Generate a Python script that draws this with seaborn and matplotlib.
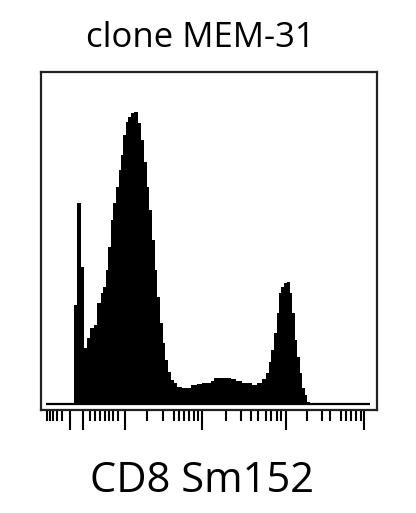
import numpy as np
import pandas as pd
import matplotlib
matplotlib.use('Agg')
import matplotlib.pyplot as plt
import seaborn as sns

# данные гистограммы (каналы и число событий)
bin_edges = [33.3, 36.7, 40.7, 43.3, 46.0, 49.3, 53.3, 56.7, 60.0, 62.7,
             65.0, 67.7, 70.0, 72.7, 75.3, 78.0, 80.0, 82.7, 85.0, 87.3,
             90.0, 93.3, 97.3, 100.0, 103.3, 106.0, 108.7, 111.3, 114.0, 116.7,
             119.3, 122.0, 124.7, 127.3, 130.0, 133.3, 136.7, 141.7, 150.0, 156.7,
             161.7, 170.0, 173.3, 190.0, 195.0, 201.7, 211.7, 216.7, 221.7, 225.0,
             228.3, 230.7, 233.3, 236.0, 238.3, 240.7, 243.3, 246.0, 249.3, 251.7,
             254.0, 256.7, 259.3, 261.7, 264.0, 266.7, 269.3]
counts = [99, 201, 137, 56, 66, 76, 79, 101, 111, 117,
          134, 157, 184, 201, 217, 234, 249, 269, 282, 287,
          291, 292, 281, 264, 242, 217, 194, 164, 134, 107,
          81, 61, 44, 32, 24, 21, 17, 16, 19, 20,
          21, 23, 26, 25, 23, 21, 19, 21, 25, 31,
          42, 54, 71, 91, 111, 117, 121, 122, 111, 91,
          64, 47, 31, 16, 9, 2]

# деления шкалы (логикл-шкала прибора)
major_ticks = [29.3, 42.3, 84.0, 161.7, 245.0, 323.3]
minor_ticks = [6.0, 9.3, 12.7, 16.7, 21.7, 49.3, 54.3, 59.3, 64.0, 68.3,
               72.7, 77.3, 106.7, 122.7, 133.3, 138.3, 143.3, 148.3, 153.3, 157.7,
               185.0, 200.7, 210.0, 217.7, 225.0, 230.7, 236.7, 240.7, 266.0, 281.0,
               289.3, 300.0, 305.0, 310.0, 315.0, 320.0]

title_text = 'clone MEM-31'
xlabel_text = 'CD8 Sm152'

sns.set_style('white')
plt.rcParams['font.family'] = ['Open Sans', 'DejaVu Sans']

W, H = 416, 513
fig = plt.figure(figsize=(W / 100, H / 100), dpi=100)
ax = fig.add_axes([40.7 / W, (H - 410) / H, 336 / W, 338.3 / H])

edges = np.array(bin_edges)
df = pd.DataFrame({'channel': (edges[:-1] + edges[1:]) / 2, 'events': counts})
sns.histplot(data=df, x='channel', weights='events', bins=list(bin_edges),
             element='step', fill=True, color='black', alpha=1, linewidth=0, ax=ax)
ax.hlines(0, 5, 329.3, color='black', linewidth=1.6)

ax.set_xlim(0, 336)
ax.set_ylim(-6, 332.3)
ax.set_xticks(major_ticks)
ax.set_xticks(minor_ticks, minor=True)
ax.set_xticklabels([])
ax.set_yticks([])
ax.set_xlabel('')
ax.set_ylabel('')
ax.tick_params(axis='x', which='major', direction='out', length=14.5, width=1.5,
               color='black', bottom=True)
ax.tick_params(axis='x', which='minor', direction='out', length=8, width=1.5,
               color='black', bottom=True)
for sp in ax.spines.values():
    sp.set_visible(True)
    sp.set_color('#222222')
    sp.set_linewidth(1.6)

fig.text(200 / W, 1 - 47 / H, title_text, ha='center', va='baseline',
         fontsize=25, color='black')
fig.text(201.5 / W, 1 - 492 / H, xlabel_text, ha='center', va='baseline',
         fontsize=30, color='black')

fig.savefig('out.png', dpi=100)
